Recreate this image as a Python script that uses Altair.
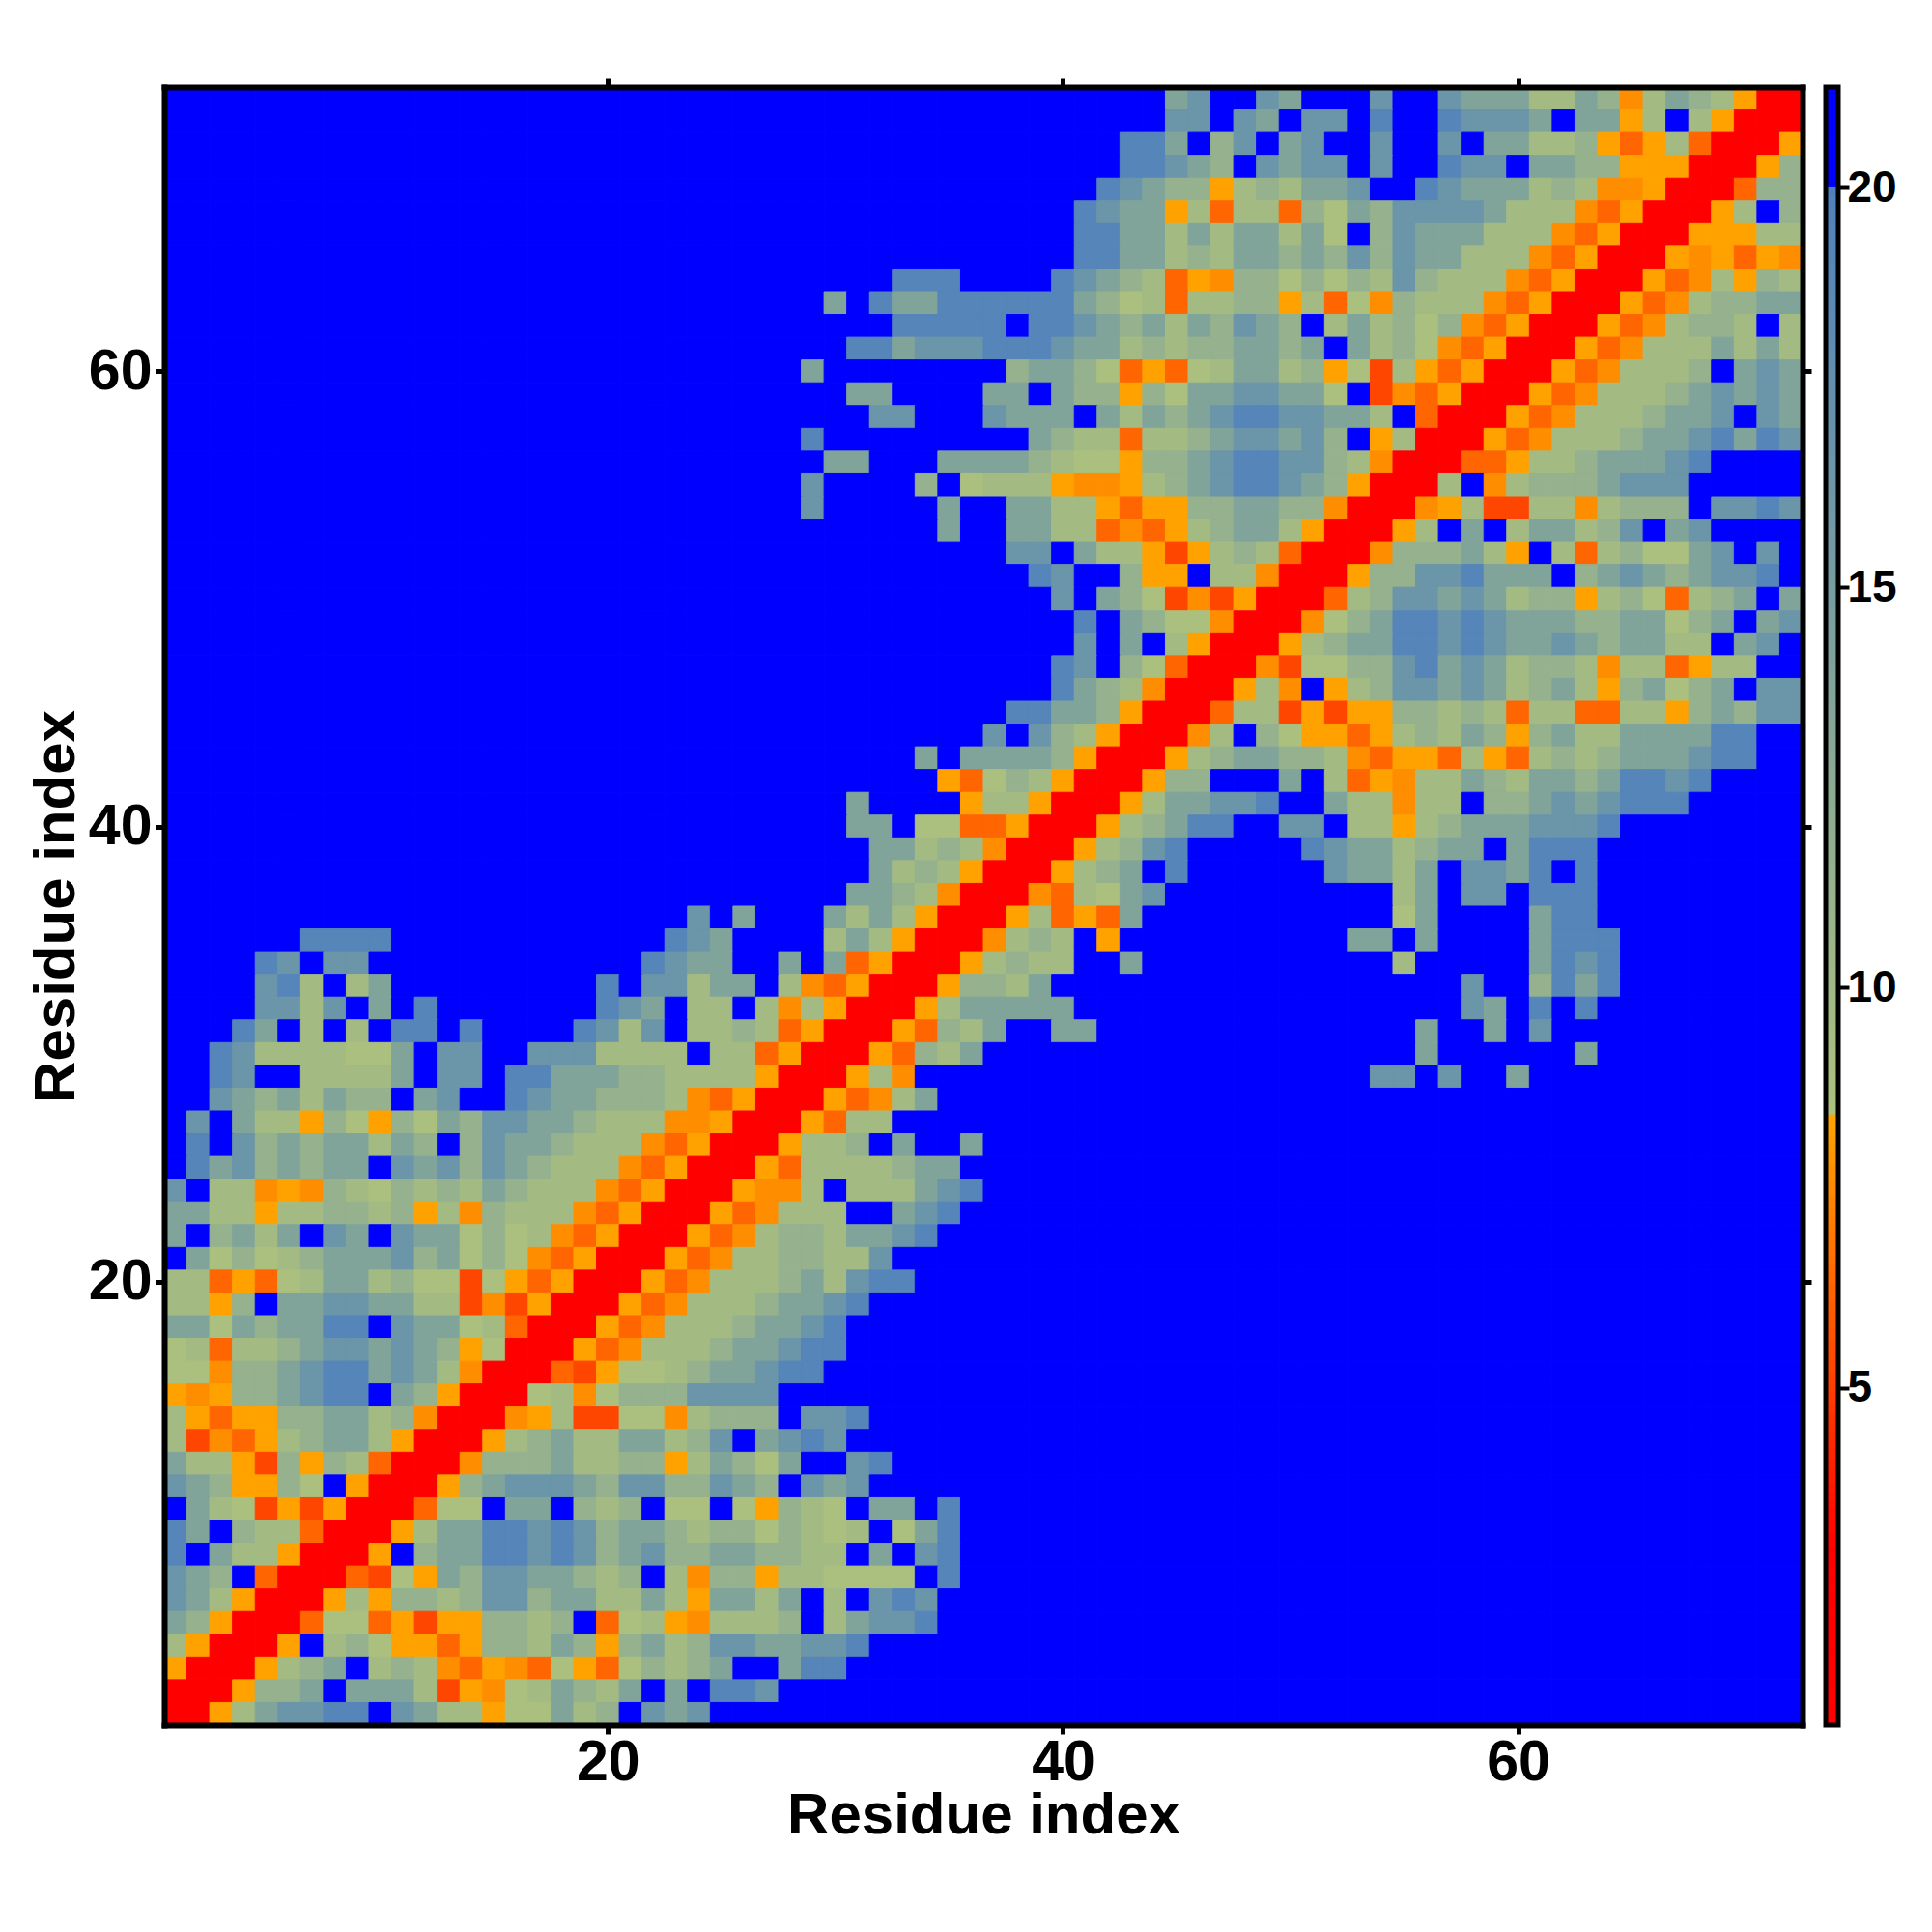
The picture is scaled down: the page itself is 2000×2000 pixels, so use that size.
import altair as alt
import numpy as np
import pandas as pd

FONT = "Liberation Sans"
BL = "B" * 18

# Each row: columns 1-18, 19-36, 37-54, 55-72; first entry is residue 72, last is residue 1.
rows_top_down = [
    (BL, BL, "BBBBBBBBtsBBstBBBs", "BBstttGGtgoGtgGarr"),
    (BL, BL, "BBBBBBBBssBstBssBS", "BBSssstBttaGBGarrr"),
    (BL, BL, "BBBBBBSStBgsBtsBBs", "BBsBttGGgaeaGerrra"),
    (BL, BL, "BBBBBBSSstgBstssBs", "BBSssBttggaaarrrag"),
    (BL, BL, "BBBBBSstggaGgGttsB", "BSstttGgGooarrregg"),
    (BL, BL, "BBBBSsttaGeGGegAtg", "sssstGGGoearrraGBg"),
    (BL, BL, "BBBBSSttGtGttGtABg", "stttGGGoearrraaaGG"),
    (BL, BL, "BBBBSSttGgGttgtgsg", "sttGGGoearrraoaeao"),
    (BL, "BBBBBBBBBBBBBBSSSB", "BBBSstgGeaoggAgAgG", "sgGGGoearrraeoGagG"),
    (BL, "BBBBBBBBBBBtBSttSS", "SSSStgAGeGGggaGeAo", "gGGGoearrraeoGggtt"),
    (BL, "BBBBBBBBBBBBBBSSSS", "SBSSstgtGtgstgBGtG", "gAgoearrraeoGggGBG"),
    (BL, "BBBBBBBBBBBBSStsss", "SSSsttGgGggttgtBtG", "gAoearrraeoGGGtGtG"),
    (BL, "BBBBBBBBBBtBBBBBBB", "BgttgAeaeAGttGgaAd", "GaearrraeoGGGgBtst"),
    (BL, "BBBBBBBBBBBBttBBBB", "ttBtggagAttssttABd", "oearrraeoGGGgtstst"),
    (BL, "BBBBBBBBBBBBBssBBB", "stttBtGtgtsSSssttG", "BerrraeoGGGgttsBst"),
    (BL, "BBBBBBBBBBSBBBBBBB", "BBtgGGeGGgtsstsgBa", "GrrraeoGGGgttsStSs"),
    (BL, "BBBBBBBBBBBttBBBtt", "ttgGAAaggtsSSssgGo", "rrreeaGGgtttsSBBBB"),
    (BL, "BBBBBBBBBBsBBBBgBA", "GGGaooaGgtsSSstgar", "rrGBoGgggtsssBBBBB"),
    (BL, "BBBBBBBBBBsBBBBBtB", "BttGGaeaaggttggorr", "roaGddGGoGgggBssSs"),
    (BL, "BBBBBBBBBBBBBBBBtB", "BttGGeoeaGgttGarrr", "aGBtBGttGgsBtsBBBB"),
    (BL, BL, "BssBtGGadaGgGerrro", "gggtGaBGeGgAAtsBsB"),
    (BL, BL, "BBSsBBgaaBGGorrrag", "gssStttBgtstgtssSB"),
    (BL, BL, "BBBsBtgAdodarrreGg", "sststGggaGgAeGgtBt"),
    (BL, BL, "BBBBSBtgAAorrroAgt", "SSsSstttggttAgtBts"),
    (BL, BL, "BBBBsBtBGarrraGgtt", "SSsSsttstgttGGBtsB"),
    (BL, BL, "BBBSsBgAerrrodAAgg", "sStstGggGoGGeaGGBB"),
    (BL, BL, "BBBStgGorrraGoBaGg", "sststGgtGagtAgtBss"),
    (BL, BL, "BSSttgarrreGGdadaa", "ggGgGeGGeeGGagtgss"),
    (BL, BL, "sBsgGarrroGBgAaaea", "GgGtgagtGGttttSSBB"),
    (BL, "BBBBBBBBBBBBBBBtBt", "tttgarrraGgttggGoe", "aaeGaeGgGgtttsSSBB"),
    (BL, "BBBBBBBBBBBBBBBBae", "AgGarrraggBBBtBGea", "oGGtgGttgtSSsSBBBB"),
    (BL, "BBBBBBBBBBBBtBBBBa", "GGarrraGttssSBBtGG", "oGGBggtstsSSSBBBBB"),
    (BL, "BBBBBBBBBBBBttBAAe", "earrraGgtSSBBssBGG", "aGgtttsssSBBBBBBBB"),
    (BL, "BBBBBBBBBBBBBttGgG", "orrraGgsSBBBBBSstt", "GgttBtSSSBBBBBBBBB"),
    (BL, "BBBBBBBBBBBBBtGgGa", "rrraGgtBSBBBBBBstt", "GtBsstSBSBBBBBBBBB"),
    (BL, "BBBBBBBBBBBBttgGor", "rroeGAtsBBBBBBBBBB", "GtBssBSSSBBBBBBBBB"),
    (BL, "BBBBBsBtBBBtGtGarr", "raGeaetBBBBBBBBBBB", "AtBBBBtSSBBBBBBBBB"),
    ("BBBBBBSSSSBBBBBBBB", "BBBBSstBBBBGtGarrr", "oGgGBaBBBBBBBBBBtt", "BtBBBBtSSSBBBBBBBB"),
    ("BBBBSsBssBBBBBBBBB", "BBBSsttBBtBtearrra", "GgGGBBtBBBBBBBBBBB", "GBBBBBtSsSBBBBBBBB"),
    ("BBBBsSGBGtBBBBBBBB", "BSBssGttBGoearrrag", "gGtBBBBBBBBBBBBBBB", "BBBsBBgStSBBBBBBBB"),
    ("BBBBssGsBtBSBBBBBB", "BSstBGGBGoGarrraGt", "ttttBBBBBBBBBBBBBB", "BBBstBSBSBBBBBBBBB"),
    ("BBBStBGBGBSSBSBBBB", "SsGsBGGgGearrraegG", "tBBttBBBBBBBBBBBBB", "BtBBtBsBBBBBBBBBBB"),
    ("BBSsGGGGAAtBssBBss", "sGGGGBGGearrraegGt", BL, "BtBBBBBBtBBBBBBBBB"),
    ("BBSsBBGGGGtBssBSSt", "ttggGGGGarrraGoBBB", "BBBBBBBBBBBBBBBBBs", "sBsBBtBBBBBBBBBBBB"),
    ("BBstgtGtggBtsBBSst", "tgggGoearrraeoGtBB", BL, BL),
    ("BsBtGGagAagAtgsstt", "gGGGooarrraeGGBBBB", BL, BL),
    ("BSBsgtgttGtgBgsttg", "GGGoearrraGGgBtBBt", BL, BL),
    ("BStsgtgttBstsgstgG", "GGoearrraeGGGGgttB", BL, BL),
    ("sBGGoaogGAgGgGtgGG", "GoearrraooGBGGGtsS", BL, BL),
    ("ttGGaGGggGgaGogGGG", "oearrraeoGGGBBtsSB", BL, BL),
    ("tBgtGtBstBsttAgAGo", "earrraeoGggGttsSBB", BL, BL),
    ("BtAgAGgtttsgtAgAoe", "arrraeoGGggGGsBBBB", BL, BL),
    ("GGeaeAGttGgAAdAaea", "rrraeoGGGgtGsSSBBB", BL, BL),
    ("GGagBttssttGGdodar", "rraeoGGGgttsSBBBBB", BL, BL),
    ("ttAtgttSSBsttAGerr", "raeoGGGgttsSBBBBBB", BL, BL),
    ("AGeGGgtsststgaArrr", "aeoGGGgttsSSBBBBBB", BL, BL),
    ("AAoggtsSStstGorrre", "daAAGgttsSSBBBBBBB", BL, BL),
    ("aoaggtsSSBtgarrrAG", "oAgggssssBBBBBBBBB", BL, BL),
    ("GaeaaggttGgorrroaG", "ddAAoGgggBssSBBBBB", BL, BL),
    ("GdoeaGgttGarrraGgt", "GGttGgsBtsSsBBBBBB", BL, BL),
    ("tGGadgagGerrrogggt", "GGggaGtgAtBBsSBBBB", BL, BL),
    ("stgaagABarrragtsss", "tgssggstgBstsBBBBB", BL, BL),
    ("BtGAdadarrreAABttB", "gGgBAABAagGABttBSB", BL, BL),
    ("StBgGGerrraGttSSsS", "sgttgGggAgGAGBAtSB", BL, BL),
    ("SBtGGarrraBgttSSsS", "sgtsggttggGGBtBsSB", BL, BL),
    ("stgBerrredAatgsstt", "gGgBGoggaGGAAAABSB", BL, BL),
    ("stGarrraGaggGgssgt", "tGGtGattGtBGBsSsBB", BL, BL),
    ("tgarrreAAeadaaggGg", "BeAGaoGGGgBGtssSBB", BL, BL),
    ("GarrraBGgAaaeaggGt", "gagtGgssttssSBBBBB", BL, BL),
    ("arrraGgtBGgGoeaoeA", "aeAgGgtBBtSSBBBBBB", BL, BL),
    ("rrraggtBtttGdaoAGt", "gGtBtBSSsBBBBBBBBB", BL, BL),
    ("rraGtssSSBstGGaAAt", "GgBstsBBBBBBBBBBBB", BL, BL),
]

# Distance.
level_values = {"r": 2.0, "d": 5.3, "e": 6.3, "o": 7.6, "a": 8.3,
                "A": 8.7, "G": 9.6, "g": 11.4, "t": 13.8, "s": 16.5, "S": 19.3, "B": 21.0}

color_domain = [0.78, 3.0, 8.4, 8.401, 20.0, 20.001, 21.26]
color_range = ["#ff0000", "#ff0000", "#ffa500", "#adc27c", "#4f81bd", "#0000ff", "#0000ff"]
axis_ticks = [20, 40, 60]
bar_ticks = [5, 10, 15, 20]

recs = []
for k, segs in enumerate(rows_top_down):
    row = "".join(segs)
    assert len(row) == 72, (72 - k, len(row))
    for i, c in enumerate(row):
        recs.append({"x0": i + 0.5, "x1": i + 1.5, "y0": 71.5 - k, "y1": 72.5 - k,
                     "v": level_values[c]})
assert len(rows_top_down) == 72
df = pd.DataFrame(recs)

cscale = alt.Scale(domain=color_domain, range=color_range, interpolate="rgb")
xs = alt.Scale(domain=[0.5, 72.5], nice=False, zero=False)
ys = alt.Scale(domain=[0.5, 72.5], nice=False, zero=False)

PW = 1696
common = dict(domainColor="black", domainWidth=6, domainCap="square", tickColor="black",
              tickWidth=5, tickSize=9, grid=False, labelFont=FONT, titleFont=FONT,
              labelColor="black", titleColor="black", labelFontWeight="bold",
              titleFontWeight="bold", labelFontSize=59, titleFontSize=60, values=axis_ticks,
              zindex=1, labelFlush=False, labelOverlap=False)

heat = alt.Chart(df).mark_rect(strokeWidth=1).encode(
    x=alt.X("x0:Q", scale=xs, axis=alt.Axis(title="Residue index", titlePadding=-4,
                                             labelPadding=0, **common)),
    x2="x1:Q",
    y=alt.Y("y0:Q", scale=ys, axis=alt.Axis(title="Residue index", titlePadding=2,
                                             labelPadding=4, **common)),
    y2="y1:Q",
    fill=alt.Fill("v:Q", scale=cscale, legend=None),
    stroke=alt.Stroke("v:Q", scale=cscale, legend=None),
)

mirror_common = {k: v for k, v in common.items()
                 if k not in ("labelFont", "titleFont", "labelColor", "titleColor",
                              "labelFontWeight", "titleFontWeight", "labelFontSize",
                              "titleFontSize", "labelFlush", "labelOverlap")}
mirror = alt.Chart(pd.DataFrame({"x": [axis_ticks[0]], "y": [axis_ticks[0]]})).mark_point(opacity=0).encode(
    x=alt.X("x:Q", scale=xs, axis=alt.Axis(orient="top", title=None, labels=False, **mirror_common)),
    y=alt.Y("y:Q", scale=ys, axis=alt.Axis(orient="right", title=None, labels=False, **mirror_common)),
)

main = alt.layer(heat, mirror).resolve_scale(x="independent", y="independent").properties(
    width=PW, height=PW)

bar_lo, bar_hi = color_domain[0], color_domain[-1]
edges = np.linspace(bar_lo, bar_hi, 411)
bdf = pd.DataFrame({"a": edges[:-1], "b": edges[1:], "m": (edges[:-1] + edges[1:]) / 2})
BW = 13
bar_scale = alt.Scale(domain=[bar_lo, bar_hi], nice=False, zero=False)
bar = alt.Chart(bdf).mark_rect(strokeWidth=1).encode(
    x=alt.value(0), x2=alt.value(BW),
    y=alt.Y("a:Q", scale=bar_scale, axis=alt.Axis(
        orient="right", title=None, values=bar_ticks, domain=False, tickColor="black",
        tickWidth=4, tickSize=11, labelFont=FONT, labelFontWeight="bold", labelFontSize=46,
        labelColor="black", labelPadding=-2, grid=False, labelFlush=False, labelOverlap=False)),
    y2="b:Q",
    fill=alt.Fill("m:Q", scale=cscale, legend=None),
    stroke=alt.Stroke("m:Q", scale=cscale, legend=None),
)
frame = alt.Chart(pd.DataFrame({"a": [0]})).mark_rect(fill=None, stroke="black", strokeWidth=5).encode(
    x=alt.value(0), x2=alt.value(BW), y=alt.value(0), y2=alt.value(PW))
colorbar = alt.layer(bar, frame).properties(width=BW, height=PW)

chart = alt.hconcat(main, colorbar, spacing=9).resolve_scale(fill="independent", stroke="independent").properties(
    padding={"left": 20, "top": 70, "right": 5, "bottom": 5}
).configure_view(stroke=None)

chart.save("out.html", embed_options={"renderer": "svg", "actions": False})
